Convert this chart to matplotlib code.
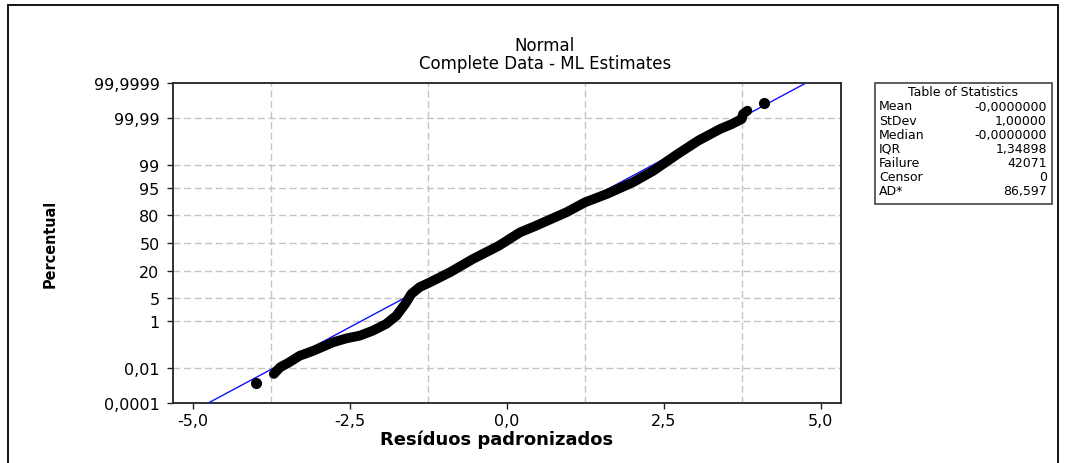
from statistics import NormalDist

import numpy as np
import matplotlib
matplotlib.use("Agg")
import matplotlib.pyplot as plt
from matplotlib.patches import Rectangle

# values
resid = [-3.71, -3.61, -3.48, -3.30, -3.08, -2.77, -2.55, -2.34, -2.13, -1.92,
         -1.76, -1.62, -1.52, -1.39, -1.23, -0.91, -0.54, -0.13, 0.21, 0.44,
         0.95, 1.24, 1.59, 2.01, 2.33, 2.72, 3.05, 3.39, 3.58, 3.74, 3.76, 3.83]
percent = [0.0050, 0.0112, 0.0185, 0.0404, 0.0687, 0.159, 0.233, 0.298, 0.466, 0.82,
           1.54, 3.51, 6.55, 9.51, 12.1, 19.2, 31.9, 46.8, 62.6, 69.1,
           82.1, 88.7, 92.8, 96.5, 98.42, 99.598, 99.886, 99.965, 99.980, 99.9888,
           99.99385, 99.99593]
outlier_resid = [-4.00, 4.10]
outlier_percent = [0.00166, 99.99841]

fit_mean = 0.0
fit_sd = 1.0

y_ticks = [0.0001, 0.01, 1, 5, 20, 50, 80, 95, 99, 99.99, 99.9999]
y_labels = ["0,0001", "0,01", "1", "5", "20", "50", "80", "95", "99", "99,99", "99,9999"]
x_ticks = [-5.0, -2.5, 0.0, 2.5, 5.0]
x_labels = ["-5,0", "-2,5", "0,0", "2,5", "5,0"]
x_grid = [-3.75, -1.25, 1.25, 3.75]

stats_names = ["Mean", "StDev", "Median", "IQR", "Failure", "Censor", "AD*"]
stats_values = ["-0,0000000", "1,00000", "-0,0000000", "1,34898", "42071", "0", "86,597"]

ND = NormalDist()


def pct_to_z(p):
    p = np.clip(np.asarray(p, dtype=float) / 100.0, 1e-15, 1 - 1e-15)
    return np.vectorize(ND.inv_cdf, otypes=[float])(p)


def z_to_pct(z):
    z = np.asarray(z, dtype=float)
    return np.vectorize(ND.cdf, otypes=[float])(z) * 100.0


W, H = 1066, 464


def px(x, y):
    return x / W, 1 - y / H


fig = plt.figure(figsize=(W / 100, H / 100), dpi=100)
ax = fig.add_axes([172.7 / W, 1 - 404 / H, (841 - 172.7) / W, (404 - 84.3) / H])
ax.set_yscale("function", functions=(pct_to_z, z_to_pct))

# fitted line
zline = np.array([-4.753, 4.753])
ax.plot(fit_mean + fit_sd * zline, z_to_pct(zline), color="#1010ff", lw=1.0, zorder=3)

# data
ax.plot(resid, percent, color="black", lw=7.0, solid_capstyle="round",
        solid_joinstyle="round", zorder=4)
ax.plot(outlier_resid, outlier_percent, "o", color="black", ms=7, zorder=4)

ax.set_xlim(-5.32, 5.32)
ax.set_ylim(0.0001, 99.9999)
ax.set_xticks(x_ticks)
ax.set_xticklabels(x_labels)
ax.set_yticks(y_ticks)
ax.set_yticklabels(y_labels)
ax.minorticks_off()

grid_kw = dict(color="#c4c4c4", lw=1.0, ls=(0, (5, 2.6)), zorder=1)
for xv in x_grid:
    ax.axvline(xv, **grid_kw)
for yv in y_ticks[1:-1]:
    ax.axhline(yv, **grid_kw)

for s in ax.spines.values():
    s.set_linewidth(1.3)
    s.set_color("#222222")
ax.tick_params(axis="both", direction="out", length=4.5, width=1.0, colors="#222222",
               labelcolor="black", labelsize=11.5)
ax.tick_params(axis="y", pad=5)
ax.tick_params(axis="x", pad=3)

fig.text(*px(545, 46), "Normal", ha="center", va="center", fontsize=12)
fig.text(*px(545, 64), "Complete Data - ML Estimates", ha="center", va="center", fontsize=12)
fig.text(*px(50, 244), "Percentual", rotation=90, ha="center", va="center", fontsize=11.5,
         fontweight="bold", fontstretch="condensed")
fig.text(*px(497, 440), "Resíduos padronizados", ha="center", va="center",
         fontsize=13, fontweight="bold")

# outer frame
fig.patches.append(Rectangle(px(8, 474), (1058 - 8) / W, (474 - 6) / H,
                             transform=fig.transFigure, fill=False, lw=1.3,
                             edgecolor="black"))

# table of statistics
fig.patches.append(Rectangle(px(875, 205), (1052 - 875) / W, (205 - 84) / H,
                             transform=fig.transFigure, fill=True, facecolor="white",
                             lw=1.2, edgecolor="#444444"))
fig.text(*px(963, 93), "Table of Statistics", ha="center", va="center", fontsize=9)
for i, (name, val) in enumerate(zip(stats_names, stats_values)):
    yy = 107 + i * 14.1
    fig.text(*px(879, yy), name, ha="left", va="center", fontsize=9)
    fig.text(*px(1047, yy), val, ha="right", va="center", fontsize=9)

fig.savefig("out.png", dpi=100)
